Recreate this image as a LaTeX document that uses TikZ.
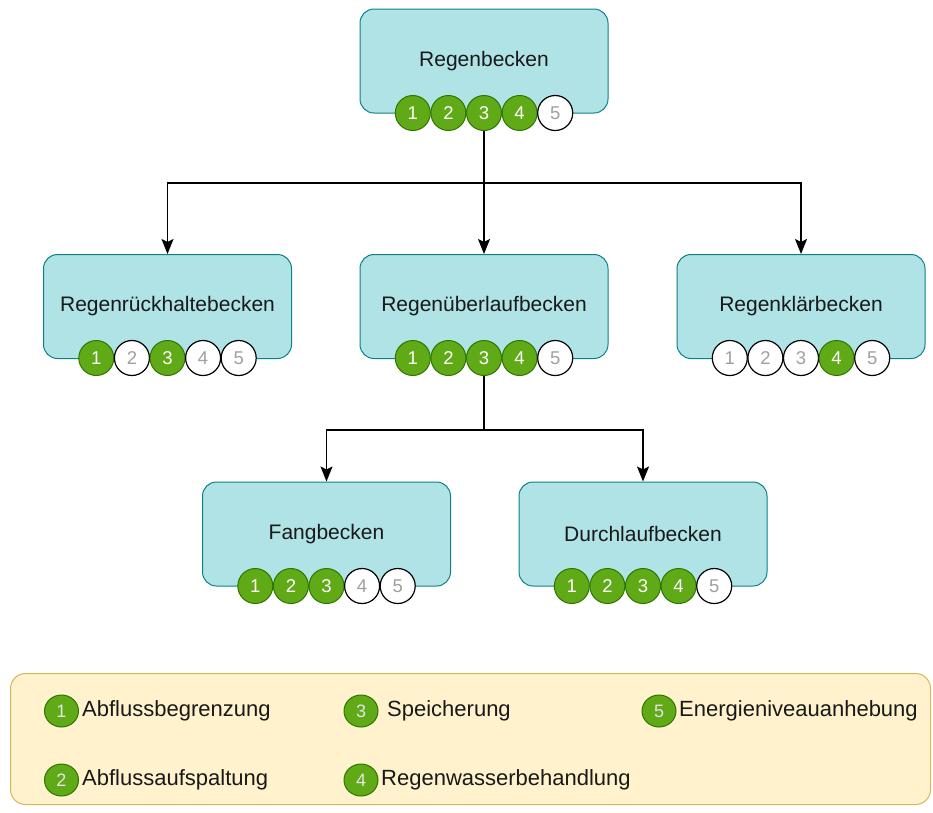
\documentclass[tikz,border=0pt]{standalone}
\usepackage{fontspec}
\setmainfont{Liberation Sans}
\usetikzlibrary{arrows.meta,shapes.geometric}
\definecolor{boxfill}{HTML}{B0E3E6}
\definecolor{boxline}{HTML}{0E8088}
\definecolor{dotgreen}{HTML}{60A917}
\definecolor{dotgreenline}{HTML}{2D7600}
\definecolor{dotgray}{HTML}{A0A0A0}
\definecolor{legfill}{HTML}{FFF2CC}
\definecolor{legline}{HTML}{D6B656}

% a row of five numbered badges: prefix, first x, y, styles
\newcommand\badgerow[4]{%
  \foreach \st [count=\i] in {#4}
    \node[\st] (#1\i) at ({#2+(\i-1)*35.6},#3) {\i};%
}

\begin{document}
\begin{tikzpicture}[x=1pt,y=-1pt,
  basin/.style={draw=boxline, fill=boxfill, line width=1pt, rounded corners=14pt,
    minimum width=248pt, minimum height=104pt, inner sep=0pt,
    font=\fontsize{21}{25}\selectfont, text=black!90},
  gdot/.style={circle, draw=dotgreenline, fill=dotgreen, line width=1pt,
    minimum size=35pt, inner sep=0pt, text=white, font=\fontsize{18.5}{21}\selectfont},
  wdot/.style={circle, draw=black, fill=white, line width=1.2pt,
    minimum size=35pt, inner sep=0pt, text=dotgray, font=\fontsize{18.5}{21}\selectfont},
  ldot/.style={ellipse, draw=dotgreenline, fill=dotgreen, line width=1pt,
    minimum width=34pt, minimum height=32pt, inner sep=0pt, text=white!90!black,
    font=\fontsize{18}{20}\selectfont},
  ltext/.style={anchor=west, inner sep=0pt, font=\fontsize{22}{26}\selectfont, text=black!90},
  link/.style={draw=black, line width=1.3pt, -{Stealth[length=15pt,width=12pt,inset=3pt]}},
  wire/.style={draw=black, line width=1.3pt}
]
\useasboundingbox (0,0) rectangle (933,812);

% basins
\node[basin] (top)   at (484,61)      {Regenbecken};
\node[basin] (left)  at (167.5,306.5) {Regenrückhaltebecken};
\node[basin] (mid)   at (484,306.5)   {Regenüberlaufbecken};
\node[basin] (right) at (801,306.5)   {Regenklärbecken};
\node[basin] (fang)  at (326.5,534)   {Fangbecken};
\node[basin] (durch) at (643,534)     {Durchlaufbecken};

% badges, the third one centred under each basin
\badgerow{t}{412.8}{113}{gdot,gdot,gdot,gdot,wdot}
\badgerow{l}{96.3}{358}{gdot,wdot,gdot,wdot,wdot}
\badgerow{m}{412.8}{358}{gdot,gdot,gdot,gdot,wdot}
\badgerow{r}{729.8}{358}{wdot,wdot,wdot,gdot,wdot}
\badgerow{f}{255.3}{586}{gdot,gdot,gdot,wdot,wdot}
\badgerow{d}{571.8}{586}{gdot,gdot,gdot,gdot,wdot}

% connectors
\coordinate (j1) at (484,183);
\coordinate (j2) at (484,430);
\path[wire] (t3.south) -- (j1);
\path[link] (j1) -| (left.north);
\path[link] (j1) -- (mid.north);
\path[link] (j1) -| (right.north);
\path[wire] (m3.south) -- (j2);
\path[link] (j2) -| (fang.north);
\path[link] (j2) -| (durch.north);

% legend
\node[draw=legline, fill=legfill, line width=1pt, rounded corners=15pt,
  minimum width=920pt, minimum height=131pt, inner sep=0pt] (legend) at (470.5,739) {};
\node[ldot] (k1) at (61.5,711) {1};
\node[ltext] (k1t) at (82,711) {Abflussbegrenzung};
\node[ldot] (k2) at (61.5,780) {2};
\node[ltext] (k2t) at (82,780) {Abflussaufspaltung};
\node[ldot] (k3) at (361,711) {3};
\node[ltext] (k3t) at (387,711) {Speicherung};
\node[ldot] (k4) at (361,780) {4};
\node[ltext] (k4t) at (381,780) {Regenwasserbehandlung};
\node[ldot] (k5) at (659,711) {5};
\node[ltext] (k5t) at (679,711) {Energieniveauanhebung};
\end{tikzpicture}
\end{document}
